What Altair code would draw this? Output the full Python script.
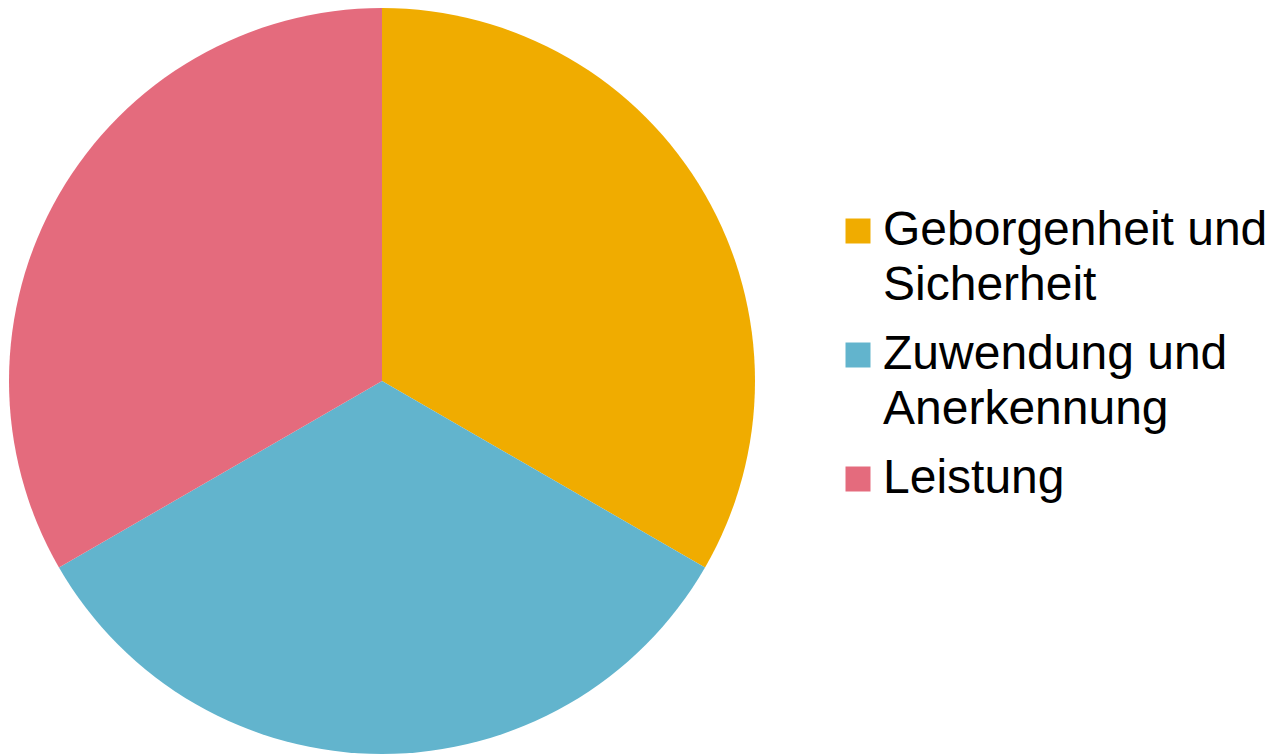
import altair as alt
import pandas as pd

categories = ["Geborgenheit und\nSicherheit", "Zuwendung und\nAnerkennung", "Leistung"]
values = [1, 1, 1]
order = [0, 1, 2]
colors = ["#F0AC00", "#62B4CD", "#E46B7D"]

df = pd.DataFrame({"cat": categories, "val": values, "ord": order})

chart = alt.Chart(df).mark_arc(stroke=None).encode(
    theta=alt.Theta("val:Q", stack=True),
    order=alt.Order("ord:Q"),
    color=alt.Color(
        "cat:N",
        sort=categories,
        scale=alt.Scale(domain=categories, range=colors),
        legend=alt.Legend(
            title=None,
            orient="none",
            legendX=834,
            legendY=207,
            labelExpr="split(datum.label, '\\n')",
            labelFont="Liberation Sans",
            labelFontSize=48,
            labelColor="#000000",
            labelLimit=600,
            labelOffset=1,
            symbolType="square",
            symbolSize=625,
            symbolStrokeWidth=0,
            symbolOpacity=1,
            rowPadding=21,
        ),
    ),
    x=alt.value(382),
    y=alt.value(381),
    radius=alt.value(373),
).properties(
    width=1282, height=756,
    autosize=alt.AutoSizeParams(type="none"),
    padding=0,
).configure(
    style={"guide-label": {"lineHeight": 55}}
).configure_view(stroke=None)

chart.save("out.html", embed_options={"renderer": "svg", "actions": False})
